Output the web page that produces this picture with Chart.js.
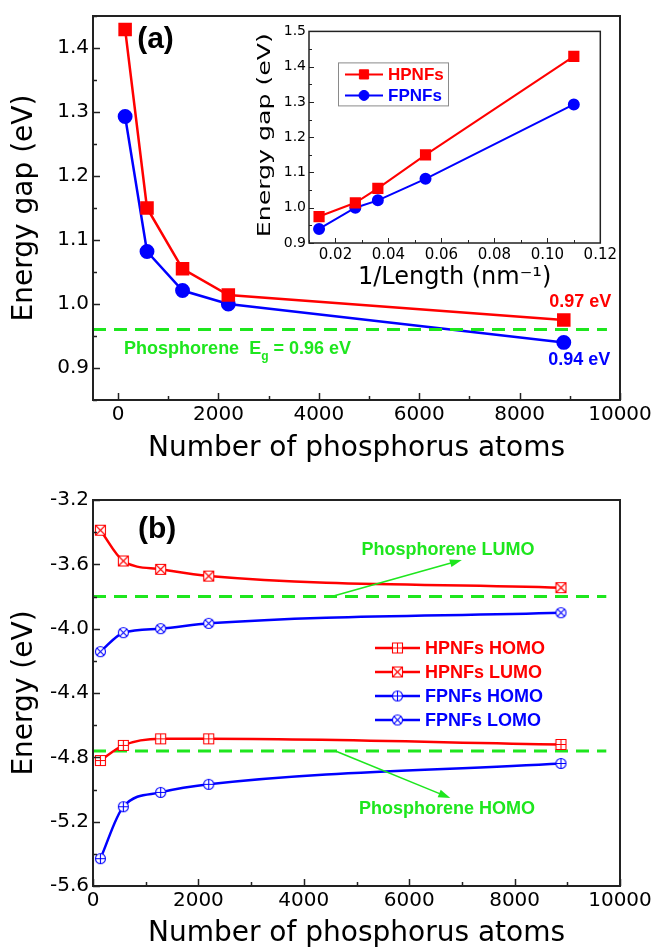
<!DOCTYPE html>
<html>
<head>
<meta charset="utf-8">
<script src="https://cdn.jsdelivr.net/npm/chart.js@4.4.1/dist/chart.umd.min.js"></script>
<style>
  html, body { margin: 0; padding: 0; background: #fff; }
  #page { position: relative; width: 657px; height: 951px; overflow: hidden; background: #fff; }
  .box { position: absolute; }
</style>
</head>
<body>
<div id="page">
  <div class="box" style="left:0;top:0"><canvas id="gapChart" width="657" height="475"></canvas></div>
  <div class="box" style="left:0;top:475px"><canvas id="levelChart" width="657" height="476"></canvas></div>
  <div class="box" style="left:240px;top:20px"><canvas id="insetChart" width="380" height="275"></canvas></div>
</div>
<script>
// flake sizes
const atoms = [140, 576, 1284, 2196, 8880];
const invLength = [0.110, 0.054, 0.036, 0.0275, 0.0138];

// panel (a): gaps
const hpnfGap = [1.429, 1.150, 1.055, 1.014, 0.975];
const fpnfGap = [1.293, 1.082, 1.021, 1.000, 0.940];
const phosGap = 0.96;

// panel (b): frontier levels
const hpnfHomo = [-4.820, -4.726, -4.685, -4.685, -4.720];
const hpnfLumo = [-3.388, -3.579, -3.631, -3.673, -3.745];
const fpnfHomo = [-5.430, -5.107, -5.018, -4.968, -4.838];
const fpnfLumo = [-4.143, -4.025, -4.000, -3.967, -3.901];
const phosLumo = -3.80;
const phosHomo = -4.76;
const refLineA = [-500, 9740];
const refLineB = [0, 9740];

// ticks
const atomTicks = [0, 2000, 4000, 6000, 8000, 10000];
const gapTicks = [0.9, 1.0, 1.1, 1.2, 1.3, 1.4];
const insetXTicks = [0.02, 0.04, 0.06, 0.08, 0.10, 0.12];
const insetYTicks = [0.9, 1.0, 1.1, 1.2, 1.3, 1.4, 1.5];
const energyTicks = [-5.6, -5.2, -4.8, -4.4, -4.0, -3.6, -3.2];

const RED = 'rgb(255,0,0)', BLUE = 'rgb(0,0,255)', GREEN = 'rgb(30,230,30)';
const REG = "'DejaVu Sans', sans-serif";
const BOLD = "'Liberation Sans', Arial, sans-serif";

const pts = (xs, ys) => xs.map((x, i) => ({ x: x, y: ys[i] }));
const flat = (xs, v) => xs.map(x => ({ x: x, y: v }));
const setTicks = vals => s => { s.ticks = vals.map(v => ({ value: v })); };

// open markers for panel (b)
function marker(shape, cross, color) {
  const c = document.createElement('canvas');
  c.width = 13; c.height = 13;
  const g = c.getContext('2d');
  const m = 6.5, r = 5;
  g.strokeStyle = color; g.fillStyle = '#fff'; g.lineWidth = 1.1;
  g.beginPath();
  if (shape === 'square') g.rect(m - r, m - r, 2 * r, 2 * r);
  else g.arc(m, m, r, 0, Math.PI * 2);
  g.fill(); g.stroke();
  g.beginPath();
  if (cross === 'plus') {
    g.moveTo(m, m - r); g.lineTo(m, m + r); g.moveTo(m - r, m); g.lineTo(m + r, m);
  } else {
    const d = shape === 'square' ? r : r * 0.72;
    g.moveTo(m - d, m - d); g.lineTo(m + d, m + d); g.moveTo(m + d, m - d); g.lineTo(m - d, m + d);
  }
  g.stroke();
  return c;
}

// box around the plot + inward major/minor ticks
const axisFrame = {
  id: 'axisFrame',
  afterDatasetsDraw(chart, args, opts) {
    const { ctx, chartArea: a, scales } = chart;
    ctx.save();
    ctx.strokeStyle = '#222';
    ctx.lineWidth = opts.width;
    ctx.strokeRect(a.left, a.top, a.right - a.left, a.bottom - a.top);
    ctx.lineWidth = opts.tickWidth;
    ['x', 'y'].forEach(id => {
      const s = scales[id];
      const vals = s.ticks.map(t => t.value);
      const step = vals[1] - vals[0];
      const minors = [vals[0] - step / 2];
      for (let i = 0; i < vals.length; i++) minors.push(vals[i] + step / 2);
      const draw = (v, len) => {
        if (v < s.min - 1e-9 || v > s.max + 1e-9) return;
        const p = Math.round(s.getPixelForValue(v)) + 0.5;
        ctx.beginPath();
        if (id === 'x') { ctx.moveTo(p, a.bottom); ctx.lineTo(p, a.bottom - len); }
        else { ctx.moveTo(a.left, p); ctx.lineTo(a.left + len, p); }
        ctx.stroke();
      };
      vals.forEach(v => draw(v, opts.major));
      minors.forEach(v => draw(v, opts.minor));
    });
    ctx.restore();
  }
};

// text labels and arrows placed in data coordinates
const notes = {
  id: 'notes',
  afterDatasetsDraw(chart, args, opts) {
    const { ctx, scales: { x, y } } = chart;
    ctx.save();
    (opts.arrows || []).forEach(ar => {
      const x0 = x.getPixelForValue(ar.from[0]), y0 = y.getPixelForValue(ar.from[1]);
      const x1 = x.getPixelForValue(ar.to[0]), y1 = y.getPixelForValue(ar.to[1]);
      ctx.strokeStyle = ar.color; ctx.fillStyle = ar.color; ctx.lineWidth = 1.6;
      const ang = Math.atan2(y1 - y0, x1 - x0), h = 12, w = 4;
      ctx.beginPath(); ctx.moveTo(x0, y0);
      ctx.lineTo(x1 - h * 0.8 * Math.cos(ang), y1 - h * 0.8 * Math.sin(ang)); ctx.stroke();
      ctx.beginPath();
      ctx.moveTo(x1, y1);
      ctx.lineTo(x1 - h * Math.cos(ang) + w * Math.sin(ang), y1 - h * Math.sin(ang) - w * Math.cos(ang));
      ctx.lineTo(x1 - h * Math.cos(ang) - w * Math.sin(ang), y1 - h * Math.sin(ang) + w * Math.cos(ang));
      ctx.closePath(); ctx.fill();
    });
    (opts.labels || []).forEach(l => {
      const parts = l.parts || [{ text: l.text }];
      const fontOf = p => 'bold ' + (p.sub ? Math.round(l.size * 0.65) : l.size) + 'px ' + BOLD;
      let px = x.getPixelForValue(l.x);
      const py = y.getPixelForValue(l.y);
      let total = 0;
      parts.forEach(p => { ctx.font = fontOf(p); total += ctx.measureText(p.text).width; });
      if (l.align === 'center') px -= total / 2;
      ctx.textAlign = 'left'; ctx.textBaseline = 'middle'; ctx.fillStyle = l.color;
      parts.forEach(p => {
        ctx.font = fontOf(p);
        ctx.fillText(p.text, px, py + (p.sub ? l.size * 0.42 : 0));
        px += ctx.measureText(p.text).width;
      });
    });
    ctx.restore();
  }
};

// legend drawn inside the plot area
const keyBox = {
  id: 'keyBox',
  afterDraw(chart, args, opts) {
    if (!opts.rows) return;
    const { ctx, chartArea: a } = chart;
    const items = chart.data.datasets.filter(d => d.label);
    ctx.save();
    if (opts.box) {
      ctx.strokeStyle = '#8a8a8a'; ctx.lineWidth = 1;
      ctx.strokeRect(a.left + opts.box[0] + 0.5, a.top + opts.box[1] + 0.5, opts.box[2], opts.box[3]);
    }
    items.forEach((d, i) => {
      const yy = a.top + opts.y + i * opts.rows;
      const x0 = a.left + opts.x, xm = x0 + opts.len / 2;
      ctx.strokeStyle = d.borderColor; ctx.lineWidth = d.borderWidth;
      ctx.beginPath(); ctx.moveTo(x0, yy); ctx.lineTo(x0 + opts.len, yy); ctx.stroke();
      if (d.pointStyle instanceof HTMLCanvasElement) {
        ctx.drawImage(d.pointStyle, xm - d.pointStyle.width / 2, yy - d.pointStyle.height / 2);
      } else {
        ctx.fillStyle = d.pointBackgroundColor; ctx.strokeStyle = d.pointBackgroundColor; ctx.lineWidth = 1;
        Chart.helpers.drawPoint(ctx, { pointStyle: d.pointStyle, radius: d.pointRadius, borderWidth: 1, rotation: 0 }, xm, yy);
      }
      ctx.font = 'bold ' + opts.size + 'px ' + BOLD;
      ctx.fillStyle = d.borderColor; ctx.textAlign = 'left'; ctx.textBaseline = 'middle';
      ctx.fillText(d.label, x0 + opts.len + opts.gap, yy + 1);
    });
    ctx.restore();
  }
};

// rotated y title, stretched to a given length
const sideTitle = {
  id: 'sideTitle',
  afterDraw(chart, args, opts) {
    if (!opts.text) return;
    const { ctx, chartArea: a } = chart;
    ctx.save();
    ctx.font = opts.size + 'px ' + REG;
    const w = ctx.measureText(opts.text).width;
    ctx.translate(opts.x, (a.top + a.bottom) / 2 + opts.dy);
    ctx.rotate(-Math.PI / 2);
    ctx.scale(opts.length / w, 1);
    ctx.textAlign = 'center'; ctx.textBaseline = 'middle'; ctx.fillStyle = '#000';
    ctx.fillText(opts.text, 0, 0);
    ctx.restore();
  }
};

const plainGrid = { display: false, drawTicks: false };
const noBorder = { display: false };

// ---------- panel (a) ----------
new Chart(document.getElementById('gapChart'), {
  type: 'scatter',
  data: {
    datasets: [{
      data: flat(refLineA, phosGap),
      showLine: true, borderColor: GREEN, borderWidth: 3, borderDash: [13, 8],
      pointRadius: 0, order: 0
    }, {
      label: 'HPNFs', data: pts(atoms, hpnfGap), showLine: true,
      borderColor: RED, borderWidth: 2.5, pointStyle: 'rect', pointRadius: 7.8,
      pointBackgroundColor: RED, pointBorderColor: RED, order: 1
    }, {
      label: 'FPNFs', data: pts(atoms, fpnfGap), showLine: true,
      borderColor: BLUE, borderWidth: 2.5, pointStyle: 'circle', pointRadius: 6.2,
      pointBackgroundColor: BLUE, pointBorderColor: BLUE, order: 1
    }]
  },
  options: {
    responsive: false, animation: false, devicePixelRatio: 1,
    layout: { padding: { top: 14, right: 37, left: 0, bottom: 0 } },
    plugins: {
      legend: { display: false }, tooltip: { enabled: false },
      axisFrame: { width: 2, tickWidth: 1.5, major: 7, minor: 4 },
      notes: {
        labels: [
          { x: 380, y: 1.4135, text: '(a)', size: 30, color: '#000' },
          { x: 9210, y: 1.003, text: '0.97 eV', size: 18, color: RED, align: 'center' },
          { x: 9190, y: 0.913, text: '0.94 eV', size: 18, color: BLUE, align: 'center' },
          { x: 120, y: 0.929, size: 18, color: GREEN,
            parts: [{ text: 'Phosphorene  E' }, { text: 'g', sub: true }, { text: ' = 0.96 eV' }] }
        ]
      }
    },
    scales: {
      x: {
        type: 'linear', min: -500, max: 10000,
        afterBuildTicks: setTicks(atomTicks),
        afterFit: s => { s.height = 75; },
        grid: plainGrid, border: noBorder,
        ticks: { autoSkip: false, maxRotation: 0, padding: 3, color: '#000',
                 font: { family: REG, size: 20 }, callback: v => String(v) },
        title: { display: true, text: 'Number of phosphorus atoms', color: '#000',
                 font: { family: REG, size: 28 }, padding: { top: 0, bottom: 9 } }
      },
      y: {
        type: 'linear', min: 0.85, max: 1.45,
        afterBuildTicks: setTicks(gapTicks),
        afterFit: s => { s.width = 93; },
        grid: plainGrid, border: noBorder,
        ticks: { autoSkip: false, padding: 4, color: '#000',
                 font: { family: REG, size: 20 }, callback: v => v.toFixed(1) },
        title: { display: true, text: 'Energy gap (eV)', color: '#000',
                 font: { family: REG, size: 28 }, padding: { top: 8, bottom: 0 } }
      }
    }
  },
  plugins: [axisFrame, notes]
});

// ---------- inset ----------
new Chart(document.getElementById('insetChart'), {
  type: 'scatter',
  data: {
    datasets: [{
      label: 'HPNFs', data: pts(invLength, hpnfGap), showLine: true,
      borderColor: RED, borderWidth: 2, pointStyle: 'rect', pointRadius: 6.5,
      pointBackgroundColor: RED, pointBorderColor: RED
    }, {
      label: 'FPNFs', data: pts(invLength, fpnfGap), showLine: true,
      borderColor: BLUE, borderWidth: 2, pointStyle: 'circle', pointRadius: 5,
      pointBackgroundColor: BLUE, pointBorderColor: BLUE
    }]
  },
  options: {
    responsive: false, animation: false, devicePixelRatio: 1,
    layout: { padding: { top: 10, right: 19, left: 0, bottom: 0 } },
    plugins: {
      legend: { display: false }, tooltip: { enabled: false },
      axisFrame: { width: 1.5, tickWidth: 1, major: 5, minor: 3 },
      keyBox: { box: [29, 31, 110, 43], x: 36, y: 43, rows: 21, len: 38, gap: 5, size: 17 },
      sideTitle: { text: 'Energy gap (eV)', x: 26, dy: -2, size: 17, length: 204 }
    },
    scales: {
      x: {
        type: 'linear', min: 0.01, max: 0.12,
        afterBuildTicks: setTicks(insetXTicks),
        afterFit: s => { s.height = 52; },
        grid: plainGrid, border: noBorder,
        ticks: { autoSkip: false, maxRotation: 0, padding: 3, color: '#000',
                 font: { family: REG, size: 15 }, callback: v => v.toFixed(2) },
        title: { display: true, text: '1/Length (nm⁻¹)', color: '#000',
                 font: { family: REG, size: 24 }, padding: { top: 0, bottom: 3 } }
      },
      y: {
        type: 'linear', min: 0.9, max: 1.5,
        afterBuildTicks: setTicks(insetYTicks),
        afterFit: s => { s.width = 69; },
        grid: plainGrid, border: noBorder,
        ticks: { autoSkip: false, padding: 3, color: '#000',
                 font: { family: REG, size: 14 }, callback: v => v.toFixed(1) }
      }
    }
  },
  plugins: [axisFrame, keyBox, sideTitle]
});

// ---------- panel (b) ----------
const levelSeries = [
  { label: 'HPNFs HOMO', ys: hpnfHomo, color: RED, mark: marker('square', 'plus', RED) },
  { label: 'HPNFs LUMO', ys: hpnfLumo, color: RED, mark: marker('square', 'x', RED) },
  { label: 'FPNFs HOMO', ys: fpnfHomo, color: BLUE, mark: marker('circle', 'plus', BLUE) },
  { label: 'FPNFs LOMO', ys: fpnfLumo, color: BLUE, mark: marker('circle', 'x', BLUE) }
];

new Chart(document.getElementById('levelChart'), {
  type: 'scatter',
  data: {
    datasets: levelSeries.map(s => ({
      label: s.label, data: pts(atoms, s.ys), showLine: true,
      borderColor: s.color, borderWidth: 2.5, cubicInterpolationMode: 'monotone',
      pointStyle: s.mark, pointRadius: 6, order: 1
    })).concat([
      { data: flat(refLineB, phosLumo), showLine: true, borderColor: GREEN, borderWidth: 3,
        borderDash: [13, 8], pointRadius: 0, order: 2 },
      { data: flat(refLineB, phosHomo), showLine: true, borderColor: GREEN, borderWidth: 3,
        borderDash: [13, 8], pointRadius: 0, order: 2 }
    ])
  },
  options: {
    responsive: false, animation: false, devicePixelRatio: 1,
    layout: { padding: { top: 25, right: 37, left: 0, bottom: 0 } },
    plugins: {
      legend: { display: false }, tooltip: { enabled: false },
      axisFrame: { width: 2, tickWidth: 1.5, major: 7, minor: 4 },
      keyBox: { x: 282, y: 148, rows: 24, len: 45, gap: 5, size: 18 },
      notes: {
        arrows: [
          { from: [4530, phosLumo], to: [7000, -3.573], color: GREEN },
          { from: [4600, phosHomo], to: [6780, -5.053], color: GREEN }
        ],
        labels: [
          { x: 854, y: -3.387, text: '(b)', size: 30, color: '#000' },
          { x: 6736, y: -3.51, text: 'Phosphorene LUMO', size: 18, color: GREEN, align: 'center' },
          { x: 6717, y: -5.12, text: 'Phosphorene HOMO', size: 18, color: GREEN, align: 'center' }
        ]
      }
    },
    scales: {
      x: {
        type: 'linear', min: 0, max: 10000,
        afterBuildTicks: setTicks(atomTicks),
        afterFit: s => { s.height = 65; },
        grid: plainGrid, border: noBorder,
        ticks: { autoSkip: false, maxRotation: 0, padding: 3, color: '#000',
                 font: { family: REG, size: 20 }, callback: v => String(v) },
        title: { display: true, text: 'Number of phosphorus atoms', color: '#000',
                 font: { family: REG, size: 28 }, padding: { top: 0, bottom: 0 } }
      },
      y: {
        type: 'linear', min: -5.6, max: -3.2,
        afterBuildTicks: setTicks(energyTicks),
        afterFit: s => { s.width = 93; },
        grid: plainGrid, border: noBorder,
        ticks: { autoSkip: false, padding: 4, color: '#000',
                 font: { family: REG, size: 20 }, callback: v => v.toFixed(1) },
        title: { display: true, text: 'Energy (eV)', color: '#000',
                 font: { family: REG, size: 28 }, padding: { top: 8, bottom: 0 } }
      }
    }
  },
  plugins: [axisFrame, notes, keyBox]
});
</script>
</body>
</html>
